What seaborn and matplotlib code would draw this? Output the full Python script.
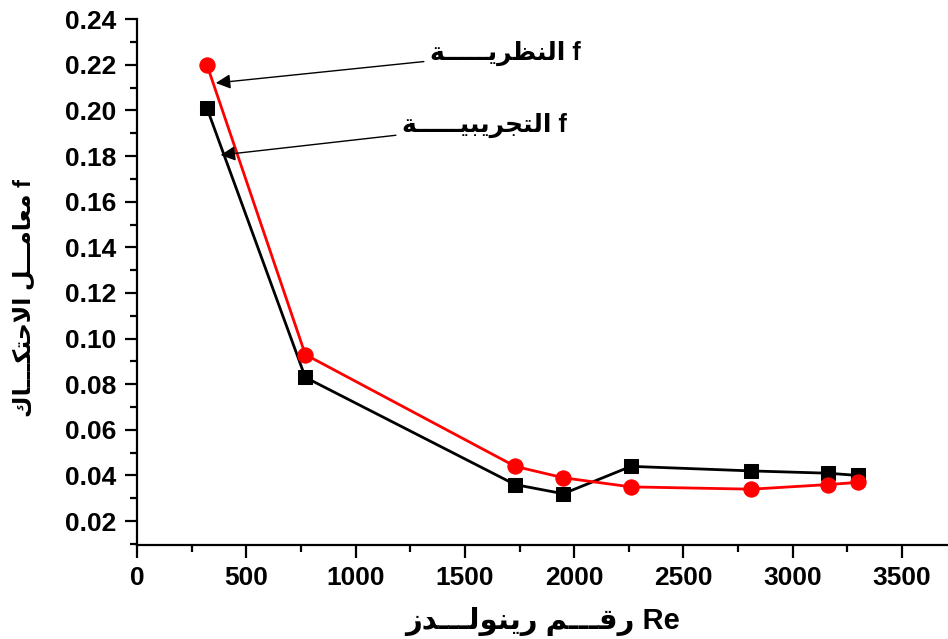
import numpy as np
import pandas as pd
import seaborn as sns
import matplotlib.pyplot as plt
from matplotlib.ticker import MultipleLocator

# ---------- datos ----------
re_vals = [320, 770, 1730, 1950, 2260, 2810, 3160, 3300]
f_teorica = [0.220, 0.093, 0.044, 0.039, 0.035, 0.034, 0.036, 0.037]
f_experimental = [0.201, 0.083, 0.036, 0.032, 0.044, 0.042, 0.041, 0.040]

# textos árabes ya en formas de presentación y orden visual (matplotlib no hace shaping)
lbl_teorica = "\ufe94" + "\u0640" * 5 + "\ufef3\ufeae\ufec8\ufee8\ufedf\ufe8d f"
lbl_experimental = "\ufe94" + "\u0640" * 5 + "\ufef4\ufe92\ufef3\ufeae\ufea0\ufe98\ufedf\ufe8d f"
xlabel = "\ufeaf\ufeaa" + "\u0640" * 3 + "\ufedf\ufeee\ufee8\ufef3\ufead " + "\ufee2" + "\u0640" * 3 + "\ufed7\ufead Re"
ylabel = "\ufed9\ufe8e" + "\u0640" * 3 + "\ufedc\ufe98\ufea3\ufefb\ufe8d " + "\ufede" + "\u0640" * 3 + "\ufee3\ufe8e\ufecc\ufee3 f"

df = pd.DataFrame({"Re": re_vals, "teorica": f_teorica, "experimental": f_experimental})

sns.set_theme(style="ticks")
fam = ["Liberation Sans", "DejaVu Sans"]
plt.rcParams["font.family"] = fam
plt.rcParams["font.weight"] = "bold"
plt.rcParams["text.color"] = "black"
plt.rcParams["axes.labelcolor"] = "black"
plt.rcParams["axes.edgecolor"] = "black"
plt.rcParams["xtick.color"] = "black"
plt.rcParams["ytick.color"] = "black"

fig = plt.figure(figsize=(9.48, 6.39), dpi=100)
ax = fig.add_axes([0.1445, 0.147, 0.8555, 0.823])

sns.lineplot(data=df, x="Re", y="experimental", color="black", marker="s", markersize=10,
             markeredgecolor="black", linewidth=2, sort=False, ax=ax, clip_on=False)
sns.lineplot(data=df, x="Re", y="teorica", color="red", marker="o", markersize=11,
             markeredgecolor="red", linewidth=2, sort=False, ax=ax, clip_on=False)

ax.set_xlim(0, 3710)
ax.set_ylim(0.0095, 0.24)
ax.xaxis.set_major_locator(MultipleLocator(500))
ax.xaxis.set_minor_locator(MultipleLocator(250))
ax.yaxis.set_minor_locator(MultipleLocator(0.01))
ax.set_yticks(np.arange(0.02, 0.2401, 0.02))
ax.yaxis.set_major_formatter(plt.FormatStrFormatter("%.2f"))

for s in ["top", "right"]:
    ax.spines[s].set_visible(False)
for s in ["left", "bottom"]:
    ax.spines[s].set_linewidth(1.6)

ax.tick_params(which="major", direction="out", length=9, width=1.6, labelsize=19, pad=6)
ax.tick_params(which="minor", direction="out", length=5, width=1.6)
for t in ax.get_xticklabels() + ax.get_yticklabels():
    t.set_fontweight("bold")

ax.set_xlabel(xlabel, fontsize=21, fontweight="bold", family=fam, labelpad=12)
ax.set_ylabel(ylabel, fontsize=17, fontweight="bold", family=fam)
ax.yaxis.set_label_coords(-0.125, 0.47)

arrow = dict(arrowstyle="-|>", color="black", lw=1, mutation_scale=22)
ax.annotate(lbl_teorica, xy=(348, 0.2119), xytext=(1340, 0.2251), fontsize=18, fontweight="bold",
            family=fam, ha="left", va="center", arrowprops=arrow)
ax.annotate(lbl_experimental, xy=(370, 0.1803), xytext=(1212, 0.1935), fontsize=18, fontweight="bold",
            family=fam, ha="left", va="center", arrowprops=arrow)

fig.savefig("out.png", dpi=100)
